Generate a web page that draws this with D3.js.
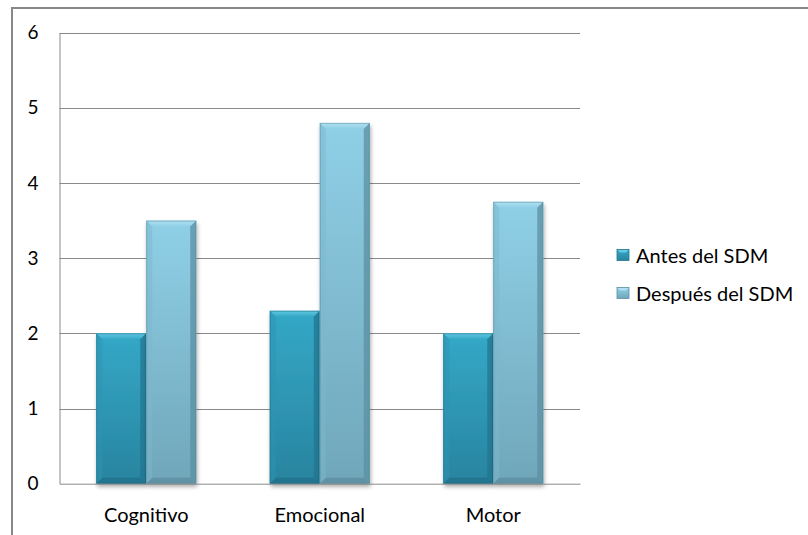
<!DOCTYPE html>
<html>
<head>
<meta charset="utf-8">
<script src="https://cdn.jsdelivr.net/npm/d3@7"></script>
<style>
  html, body { margin: 0; padding: 0; background: #fff; }
  svg { display: block; }
  text { font-family: Lato, "Open Sans", sans-serif; fill: #000; }
</style>
</head>
<body>
<svg id="chart" width="808" height="535"></svg>
<script>
// Dimensions evaluated before and after the SDM programme
const categories = ["Cognitivo", "Emocional", "Motor"];
const seriesNames = ["Antes del SDM", "Después del SDM"];
const antes = [2, 2.3, 2];
const despues = [3.5, 4.8, 3.75];
const yTicks = [0, 1, 2, 3, 4, 5, 6];

const seriesValues = [antes, despues];

const svg = d3.select("#chart");
const W = 808, H = 535;

// Chart frame
svg.append("rect")
  .attr("x", 12).attr("y", 8)
  .attr("width", W).attr("height", H)
  .attr("fill", "#fff")
  .attr("stroke", "#888").attr("stroke-width", 2);

const plot = { left: 59.5, right: 580, top: 32.7, bottom: 483.7 };

const x = d3.scaleBand().domain(categories).range([plot.left, plot.right]).padding(0);
const xs = d3.scaleBand().domain(seriesNames).range([0, x.bandwidth()])
  .paddingInner(0).paddingOuter(0.735);
const y = d3.scaleLinear().domain([0, 6]).range([plot.bottom, plot.top]);

const defs = svg.append("defs");

// Colour sets per series: face gradient, bevel highlight, bevel sides
const palette = [
  { top: "#34a8c7", bottom: "#28849f", bevTop: "#62c9e2", side: "#217590", sideL: "#2b93b1", bot: "#1f6e86" },
  { top: "#8fd0e7", bottom: "#70a6ba", bevTop: "#b0e0f1", side: "#5c8fa2", sideL: "#7cb8cd", bot: "#5a8a9c" }
];

palette.forEach((p, i) => {
  const g = defs.append("linearGradient").attr("id", "face" + i)
    .attr("x1", 0).attr("y1", 0).attr("x2", 0).attr("y2", 1);
  g.append("stop").attr("offset", "0%").attr("stop-color", p.top);
  g.append("stop").attr("offset", "100%").attr("stop-color", p.bottom);
  const b = defs.append("linearGradient").attr("id", "bev" + i)
    .attr("x1", 0).attr("y1", 0).attr("x2", 0).attr("y2", 1);
  b.append("stop").attr("offset", "0%").attr("stop-color", p.bevTop);
  b.append("stop").attr("offset", "100%").attr("stop-color", p.top);
});

const shadow = defs.append("filter").attr("id", "shadow")
  .attr("x", "-20%").attr("y", "-20%").attr("width", "140%").attr("height", "140%");
shadow.append("feGaussianBlur").attr("in", "SourceAlpha").attr("stdDeviation", 2);
shadow.append("feOffset").attr("dx", 1).attr("dy", 3).attr("result", "off");
shadow.append("feComponentTransfer").append("feFuncA").attr("type", "linear").attr("slope", 0.35);
const merge = shadow.append("feMerge");
merge.append("feMergeNode");
merge.append("feMergeNode").attr("in", "SourceGraphic");

// Gridlines
svg.append("g").selectAll("line")
  .data(yTicks.filter(d => d > 0))
  .join("line")
  .attr("x1", plot.left).attr("x2", plot.right)
  .attr("y1", d => Math.round(y(d)) + 0.5).attr("y2", d => Math.round(y(d)) + 0.5)
  .attr("stroke", "#8a8a8a").attr("stroke-width", 1);

// Y axis
const yAxis = svg.append("g")
  .attr("transform", `translate(${plot.left},0)`)
  .call(d3.axisLeft(y).tickValues(yTicks).tickSize(0).tickPadding(21).tickFormat(d3.format("d")));
yAxis.select(".domain").attr("stroke", "#8a8a8a");
yAxis.selectAll("text").attr("font-size", 19).attr("font-family", "Lato, sans-serif").attr("fill", "#000");

// Bars
const bev = 6;
const groups = svg.append("g").selectAll("g")
  .data(categories)
  .join("g")
  .attr("transform", d => `translate(${x(d)},0)`);

groups.each(function (cat, ci) {
  const g = d3.select(this);
  seriesNames.forEach((s, si) => {
    const v = seriesValues[si][ci];
    const p = palette[si];
    const x0 = xs(s), w = xs.bandwidth();
    const y0 = y(v), h = y(0) - y(v);
    const bar = g.append("g");
    bar.append("rect")
      .attr("x", x0).attr("y", y0).attr("width", w).attr("height", h)
      .attr("fill", `url(#face${si})`)
      .attr("filter", "url(#shadow)");
    // bevel: top
    bar.append("path")
      .attr("d", `M${x0},${y0} L${x0 + w},${y0} L${x0 + w - bev},${y0 + bev} L${x0 + bev},${y0 + bev} Z`)
      .attr("fill", `url(#bev${si})`);
    // bevel: left
    bar.append("path")
      .attr("d", `M${x0},${y0} L${x0 + bev},${y0 + bev} L${x0 + bev},${y0 + h - bev} L${x0},${y0 + h} Z`)
      .attr("fill", p.sideL).attr("opacity", 0.5);
    // bevel: right
    bar.append("path")
      .attr("d", `M${x0 + w},${y0} L${x0 + w},${y0 + h} L${x0 + w - bev},${y0 + h - bev} L${x0 + w - bev},${y0 + bev} Z`)
      .attr("fill", p.side).attr("opacity", 0.75);
    // bevel: bottom
    bar.append("path")
      .attr("d", `M${x0},${y0 + h} L${x0 + bev},${y0 + h - bev} L${x0 + w - bev},${y0 + h - bev} L${x0 + w},${y0 + h} Z`)
      .attr("fill", p.bot).attr("opacity", 0.7);
    // edge outline
    bar.append("rect")
      .attr("x", x0 + 0.5).attr("y", y0 + 0.5).attr("width", w - 1).attr("height", h - 1)
      .attr("fill", "none").attr("stroke", p.bot).attr("stroke-opacity", 0.5);
  });
});

// X axis
const xAxis = svg.append("g")
  .attr("transform", `translate(0,${plot.bottom})`)
  .call(d3.axisBottom(x).tickSize(0).tickPadding(24));
xAxis.select(".domain").attr("stroke", "#8a8a8a");
xAxis.selectAll("text").attr("font-size", 20).attr("font-family", "Lato, sans-serif").attr("fill", "#000");

// Legend
const legend = svg.append("g").attr("transform", "translate(617,0)");
const legendY = [255, 293];
seriesNames.forEach((s, i) => {
  const p = palette[i];
  const row = legend.append("g").attr("transform", `translate(0,${legendY[i]})`);
  row.append("rect").attr("x", 0).attr("y", -5.5).attr("width", 12).attr("height", 11)
    .attr("fill", `url(#face${i})`).attr("stroke", p.side).attr("stroke-width", 0.8);
  row.append("path").attr("d", "M0.5,-5 L11.5,-5 L9,-2.5 L3,-2.5 Z").attr("fill", p.bevTop);
  row.append("text").attr("x", 19).attr("y", 1).attr("dy", "0.35em")
    .attr("font-size", 20).text(s);
});
</script>
</body>
</html>
